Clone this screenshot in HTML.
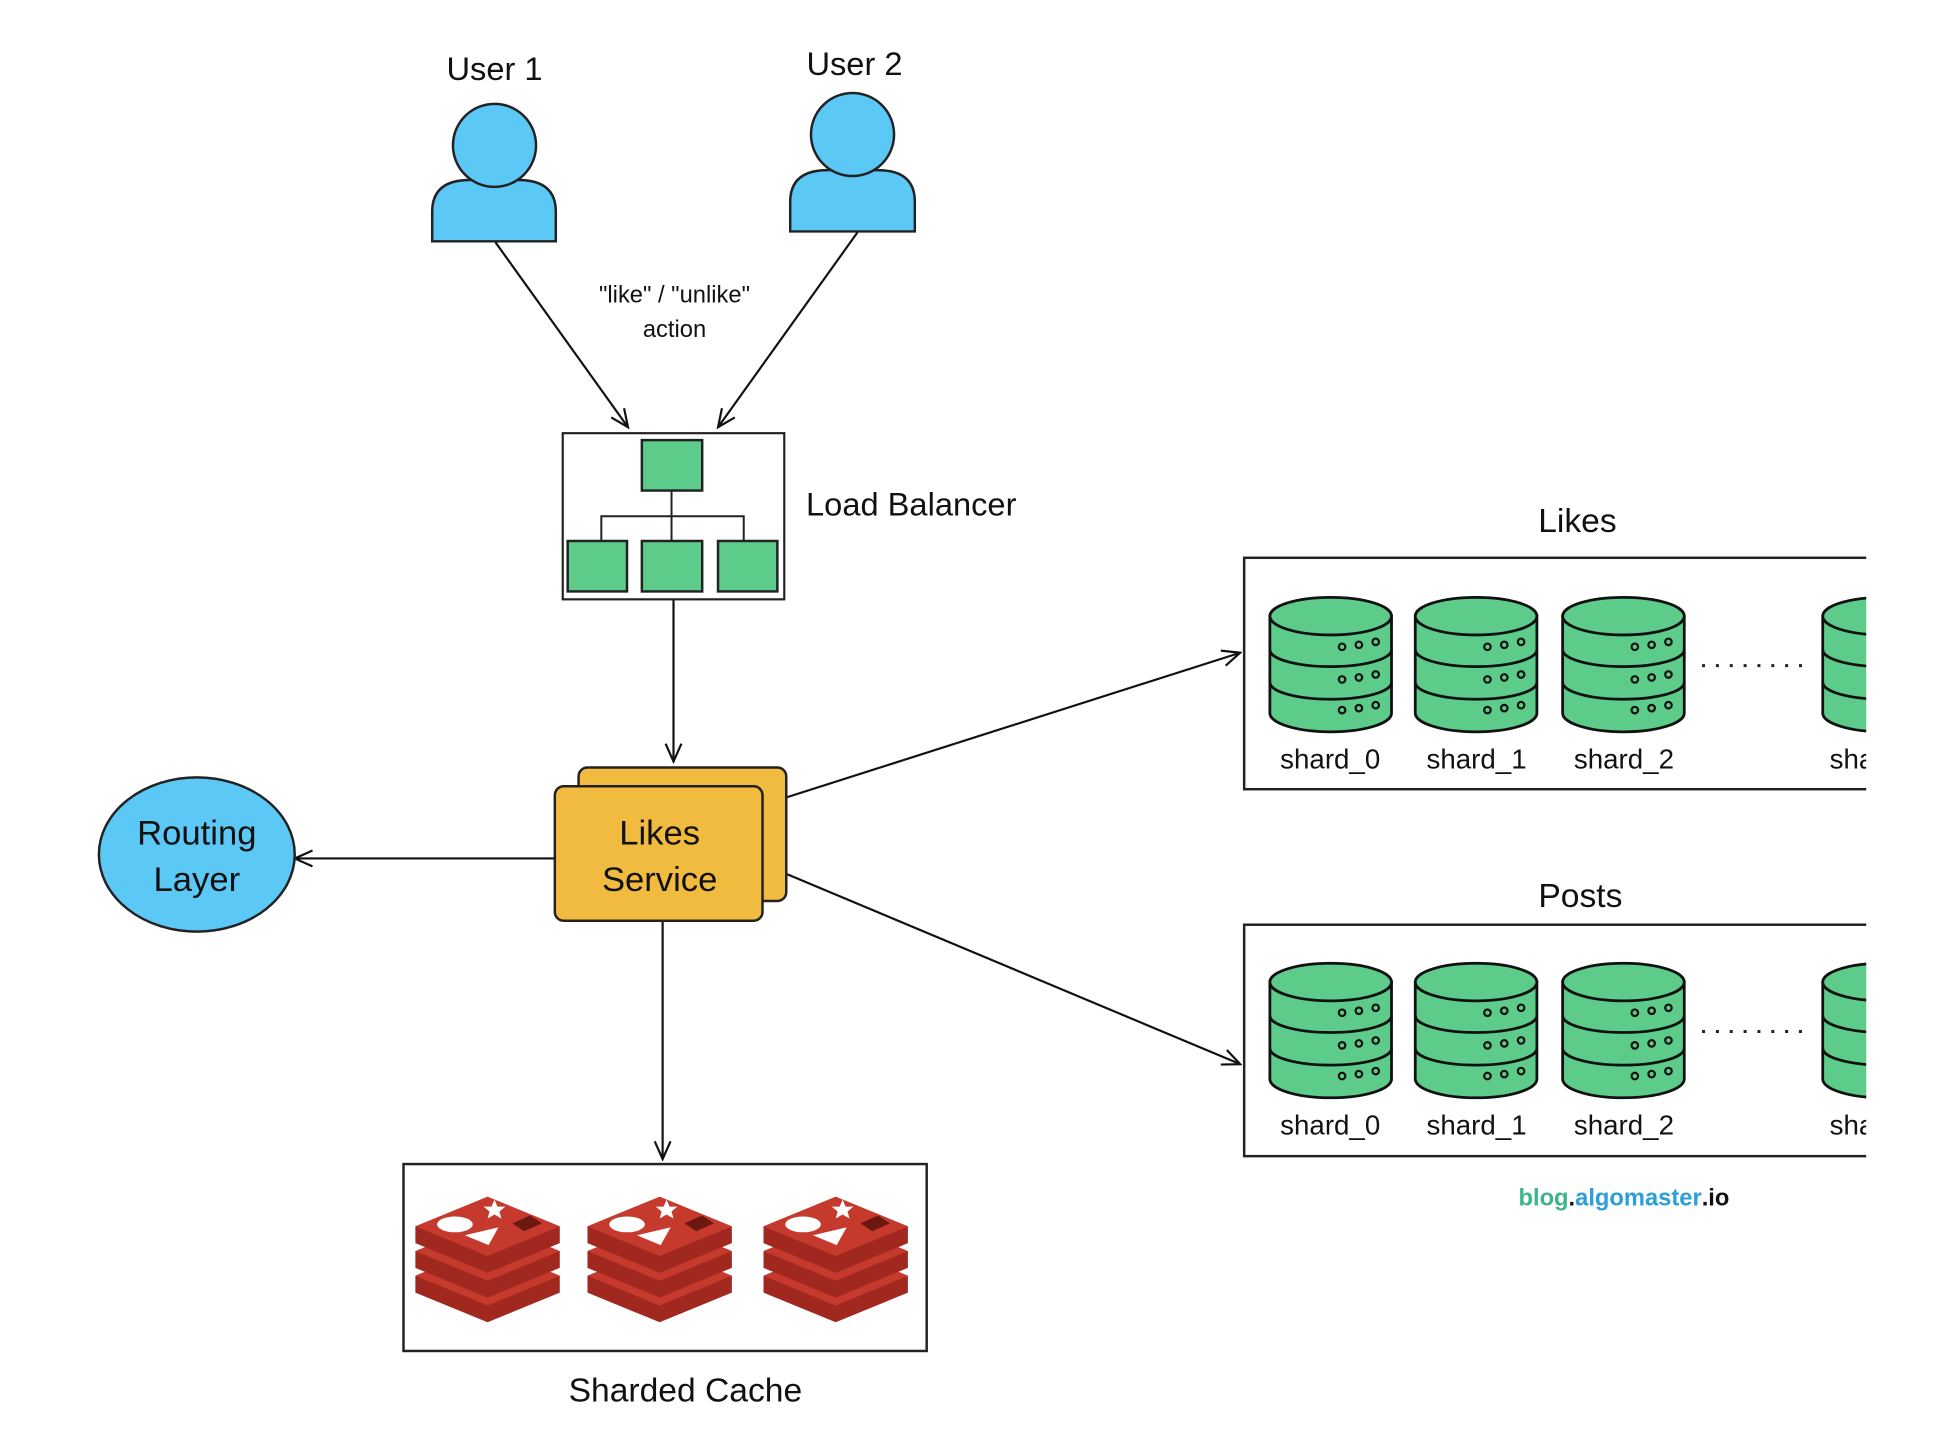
<!DOCTYPE html>
<html><head><meta charset="utf-8"><style>
html,body{margin:0;padding:0;background:#fff;width:1950px;height:1456px;overflow:hidden}
svg{display:block}
text{font-family:"Liberation Sans",sans-serif;fill:#111}
</style></head><body>
<svg width="1950" height="1456" viewBox="0 0 1950 1456" xmlns="http://www.w3.org/2000/svg">
<defs>
<marker id="ah" markerWidth="22" markerHeight="22" refX="20" refY="10" orient="auto" markerUnits="userSpaceOnUse">
<path d="M2,2 L20,10 L2,18" fill="none" stroke="#111" stroke-width="2.2"/>
</marker>
<g id="cyl" stroke="#111" stroke-width="2.8" fill="#5dcb8a">
<path d="M0,19 L0,117 A61.5,19 0 0 0 123,117 L123,19 Z"/>
<ellipse cx="61.5" cy="19" rx="61.5" ry="19"/>
<path d="M0,53 A61.5,17 0 0 0 123,53" fill="none"/>
<path d="M0,86 A61.5,17 0 0 0 123,86" fill="none"/>
<g fill="none" stroke-width="2.2">
<circle cx="73" cy="50" r="3.3"/><circle cx="90" cy="48" r="3.3"/><circle cx="107" cy="45" r="3.3"/>
<circle cx="73" cy="83" r="3.3"/><circle cx="90" cy="81" r="3.3"/><circle cx="107" cy="78" r="3.3"/>
<circle cx="73" cy="114" r="3.3"/><circle cx="90" cy="112" r="3.3"/><circle cx="107" cy="109" r="3.3"/>
</g>
</g>
<g id="layer">
<polygon points="0,35 73,5 146,35 146,52 73,82 0,52" fill="#a1281f"/>
<polygon points="0,35 73,5 146,35 73,65" fill="#c63a2e"/>
</g>
<g id="redis">
<use href="#layer" y="50"/>
<use href="#layer" y="25"/>
<use href="#layer" y="0"/>
<ellipse cx="40" cy="33" rx="18" ry="8" fill="#fff"/>
<polygon points="80,8 83,15 91,15 85,20 87,27 80,23 73,27 75,20 69,15 77,15" fill="#fff"/>
<polygon points="50,44 84,36 74,54" fill="#fff"/>
<polygon points="98,32 116,24 128,32 110,40" fill="#6d1711"/>
</g>
</defs>
<g transform="scale(0.989)">
<text x="500" y="81" font-size="33" text-anchor="middle">User 1</text>
<path d="M437,244 V214 Q437,182 475,182 H524 Q562,182 562,214 V244 Z" fill="#5bc8f5" stroke="#222" stroke-width="2.5"/>
<circle cx="500" cy="147" r="42" fill="#5bc8f5" stroke="#222" stroke-width="2.5"/>
<text x="864" y="76" font-size="33" text-anchor="middle">User 2</text>
<path d="M799,234 V204 Q799,172 837,172 H887 Q925,172 925,204 V234 Z" fill="#5bc8f5" stroke="#222" stroke-width="2.5"/>
<circle cx="862" cy="136" r="42" fill="#5bc8f5" stroke="#222" stroke-width="2.5"/>

<text x="682" y="306" font-size="24" text-anchor="middle">"like" / "unlike"</text>
<text x="682" y="341" font-size="24" text-anchor="middle">action</text>

<g stroke="#111" stroke-width="2.2" fill="none">
<line x1="501" y1="245" x2="635" y2="432" marker-end="url(#ah)"/>
<line x1="867" y1="235" x2="726" y2="432" marker-end="url(#ah)"/>
<line x1="681" y1="606" x2="681" y2="770" marker-end="url(#ah)"/>
<line x1="561" y1="868" x2="298" y2="868" marker-end="url(#ah)"/>
<line x1="796" y1="806" x2="1254" y2="660" marker-end="url(#ah)"/>
<line x1="796" y1="884" x2="1254" y2="1076" marker-end="url(#ah)"/>
<line x1="670" y1="931" x2="670" y2="1172" marker-end="url(#ah)"/>
</g>

<rect x="569" y="438" width="224" height="168" fill="#fff" stroke="#222" stroke-width="2.2"/>
<g stroke="#222" stroke-width="2" fill="none">
<line x1="679" y1="496" x2="679" y2="547"/>
<polyline points="608,547 608,522 752,522 752,547"/>
</g>
<g fill="#5dcb8a" stroke="#222" stroke-width="2.5">
<rect x="649" y="445" width="61" height="51"/>
<rect x="574" y="547" width="60" height="51"/>
<rect x="649" y="547" width="61" height="51"/>
<rect x="726" y="547" width="60" height="51"/>
</g>
<text x="815" y="521" font-size="33">Load Balancer</text>

<rect x="585" y="776" width="210" height="135" rx="9" fill="#f0bb3f" stroke="#222" stroke-width="2.5"/>
<rect x="561" y="795" width="210" height="136" rx="9" fill="#f0bb3f" stroke="#222" stroke-width="2.5"/>
<text x="667" y="854" font-size="35" text-anchor="middle">Likes</text>
<text x="667" y="901" font-size="35" text-anchor="middle">Service</text>

<ellipse cx="199" cy="864" rx="99" ry="78" fill="#5bc8f5" stroke="#222" stroke-width="2.5"/>
<text x="199" y="854" font-size="35" text-anchor="middle">Routing</text>
<text x="199" y="901" font-size="35" text-anchor="middle">Layer</text>

<rect x="408" y="1177" width="529" height="189" fill="#fff" stroke="#222" stroke-width="2.5"/>
<use href="#redis" x="420" y="1205"/>
<use href="#redis" x="594" y="1205"/>
<use href="#redis" x="772" y="1205"/>
<text x="693" y="1417" font-size="34" text-anchor="middle">Sharded Cache</text>

<text x="1595" y="538" font-size="34" text-anchor="middle">Likes</text>
<rect x="1258" y="564" width="660" height="234" fill="none" stroke="#222" stroke-width="2.5"/>
<use href="#cyl" x="1284" y="604"/>
<use href="#cyl" x="1431" y="604"/>
<use href="#cyl" x="1580" y="604"/>
<use href="#cyl" x="1843" y="604"/>
<line x1="1721" y1="673" x2="1826" y2="673" stroke="#222" stroke-width="3" stroke-dasharray="3,11"/>
<g font-size="28" text-anchor="middle">
<text x="1345" y="777">shard_0</text><text x="1493" y="777">shard_1</text><text x="1642" y="777">shard_2</text><text x="1850" y="777" text-anchor="start">shard</text>
</g>

<text x="1598" y="917" font-size="34" text-anchor="middle">Posts</text>
<rect x="1258" y="935" width="660" height="234" fill="none" stroke="#222" stroke-width="2.5"/>
<use href="#cyl" x="1284" y="974"/>
<use href="#cyl" x="1431" y="974"/>
<use href="#cyl" x="1580" y="974"/>
<use href="#cyl" x="1843" y="974"/>
<line x1="1721" y1="1043" x2="1826" y2="1043" stroke="#222" stroke-width="3" stroke-dasharray="3,11"/>
<g font-size="28" text-anchor="middle">
<text x="1345" y="1147">shard_0</text><text x="1493" y="1147">shard_1</text><text x="1642" y="1147">shard_2</text><text x="1850" y="1147" text-anchor="start">shard</text>
</g>

<rect x="1887" y="0" width="120" height="1480" fill="#fff"/>

<text x="1642" y="1219" font-size="24" font-weight="bold" text-anchor="middle"><tspan fill="#3db58a">blog</tspan><tspan fill="#111">.</tspan><tspan fill="#2a9fd8">algomaster</tspan><tspan fill="#111">.io</tspan></text>
</g>
</svg>
</body></html>
